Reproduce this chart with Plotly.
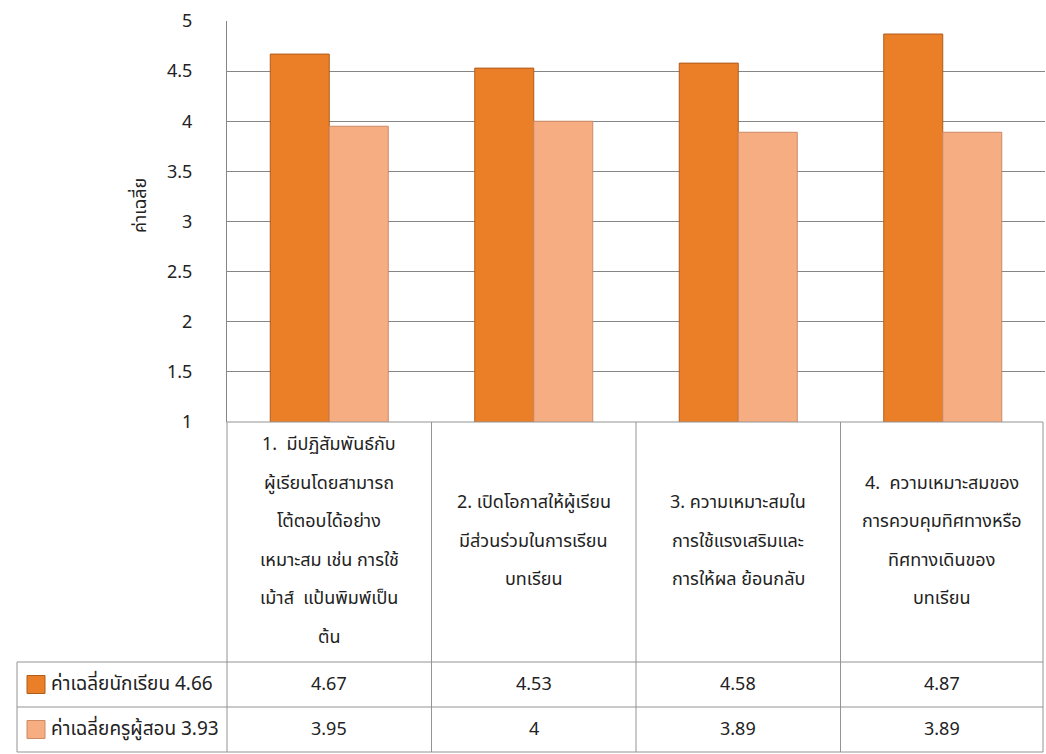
import plotly.graph_objects as go

# Category labels (one entry per line of the wrapped text)
categories = [
    ["1.  มีปฏิสัมพันธ์กับ", "ผู้เรียนโดยสามารถ", "โต้ตอบได้อย่าง",
     "เหมาะสม เช่น การใช้", "เม้าส์  แป้นพิมพ์เป็น", "ต้น"],
    ["2. เปิดโอกาสให้ผู้เรียน", "มีส่วนร่วมในการเรียน", "บทเรียน"],
    ["3. ความเหมาะสมใน", "การใช้แรงเสริมและ", "การให้ผล ย้อนกลับ"],
    ["4.  ความเหมาะสมของ", "การควบคุมทิศทางหรือ", "ทิศทางเดินของ", "บทเรียน"],
]
category_keys = ["1", "2", "3", "4"]

series_names = ["ค่าเฉลี่ยนักเรียน 4.66", "ค่าเฉลี่ยครูผู้สอน 3.93"]
student_means = [4.67, 4.53, 4.58, 4.87]
teacher_means = [3.95, 4, 3.89, 3.89]
series_values = [student_means, teacher_means]

y_ticks = [1, 1.5, 2, 2.5, 3, 3.5, 4, 4.5, 5]
y_title = "ค่าเฉลี่ย"

# Styling
W, H = 1046, 754
PLOT_L, PLOT_R, PLOT_T, PLOT_B = 227, 1045, 21, 422
FONT = "Tahoma, 'Noto Sans Thai', 'DejaVu Sans', sans-serif"
TEXT = "#222222"
GRID = "#868686"
BORDER = "#939393"
fills = ["#EA7F27", "#F7AD82"]
edges = ["#B05C1B", "#CC8964"]


def px(x):
    return (x - PLOT_L) / (PLOT_R - PLOT_L)


def py(y):
    return (PLOT_B - y) / (PLOT_B - PLOT_T)


fig = go.Figure()
for name, vals, fc, ec in zip(series_names, series_values, fills, edges):
    fig.add_trace(go.Bar(
        x=category_keys, y=vals, name=name,
        marker=dict(color=fc, line=dict(color=ec, width=1)),
        showlegend=False,
    ))

shapes = []
annotations = []


def hline(x0, x1, y):
    shapes.append(dict(type="line", xref="paper", yref="paper",
                       x0=px(x0), x1=px(x1), y0=py(y), y1=py(y),
                       line=dict(color=BORDER, width=1)))


def vline(x, y0, y1):
    shapes.append(dict(type="line", xref="paper", yref="paper",
                       x0=px(x), x1=px(x), y0=py(y0), y1=py(y1),
                       line=dict(color=BORDER, width=1)))


# Data table grid beneath the plot
TAB_L, TAB_R = 17, 1043
ROW1, ROW2, ROW3 = 662, 707, 752
col_edges = [PLOT_L + i * (PLOT_R - PLOT_L) / 4 for i in range(5)]
col_edges[-1] = TAB_R
hline(PLOT_L, TAB_R, PLOT_B)
for yy in (ROW1, ROW2, ROW3):
    hline(TAB_L, TAB_R, yy)
vline(TAB_L, ROW1, ROW3)
for xx in col_edges:
    vline(xx, PLOT_B, ROW3)

# Category labels, one annotation per line
LINE_GAP = 38.5
label_mid = (PLOT_B + ROW1) / 2 - 1
for i, lines in enumerate(categories):
    cx = (col_edges[i] + col_edges[i + 1]) / 2
    n = len(lines)
    for j, line in enumerate(lines):
        yy = label_mid + (j - (n - 1) / 2) * LINE_GAP
        annotations.append(dict(
            xref="paper", yref="paper", x=px(cx), y=py(yy),
            text=line, showarrow=False, xanchor="center", yanchor="middle",
            font=dict(family=FONT, size=18, color=TEXT)))

# Table rows: legend key, series name and per-category values
row_centers = [(ROW1 + ROW2) / 2, (ROW2 + ROW3) / 2]
for r, (name, vals) in enumerate(zip(series_names, series_values)):
    yc = row_centers[r]
    shapes.append(dict(type="rect", xref="paper", yref="paper",
                       x0=px(27), x1=px(45), y0=py(yc - 9), y1=py(yc + 9),
                       fillcolor=fills[r], line=dict(color=edges[r], width=1)))
    annotations.append(dict(
        xref="paper", yref="paper", x=px(49), y=py(yc),
        text=name, showarrow=False, xanchor="left", yanchor="middle",
        font=dict(family=FONT, size=19, color=TEXT)))
    for i, v in enumerate(vals):
        cx = (col_edges[i] + col_edges[i + 1]) / 2
        annotations.append(dict(
            xref="paper", yref="paper", x=px(cx), y=py(yc),
            text=f"{v:g}", showarrow=False, xanchor="center", yanchor="middle",
            font=dict(family=FONT, size=18, color=TEXT)))

# Rotated y-axis title
annotations.append(dict(
    xref="paper", yref="paper", x=px(140), y=py(206),
    text=y_title, showarrow=False, textangle=-90,
    xanchor="center", yanchor="middle",
    font=dict(family=FONT, size=18, color=TEXT)))

fig.update_layout(
    width=W, height=H,
    margin=dict(l=PLOT_L, r=W - PLOT_R, t=PLOT_T, b=H - PLOT_B, pad=0),
    paper_bgcolor="white", plot_bgcolor="white",
    barmode="group", bargap=0.423, bargroupgap=0,
    font=dict(family=FONT, color=TEXT),
    shapes=shapes, annotations=annotations,
    xaxis=dict(showticklabels=False, showgrid=False, zeroline=False,
               showline=False, ticks=""),
    yaxis=dict(range=[1, 5], tickvals=y_ticks, ticktext=[f"{t:g}" for t in y_ticks],
               showgrid=True, gridcolor=GRID, gridwidth=1,
               showline=True, linecolor=GRID, linewidth=1,
               zeroline=False, ticks="", ticklabelstandoff=30,
               tickfont=dict(family=FONT, size=18, color=TEXT)),
)

fig.write_html("out.html")
